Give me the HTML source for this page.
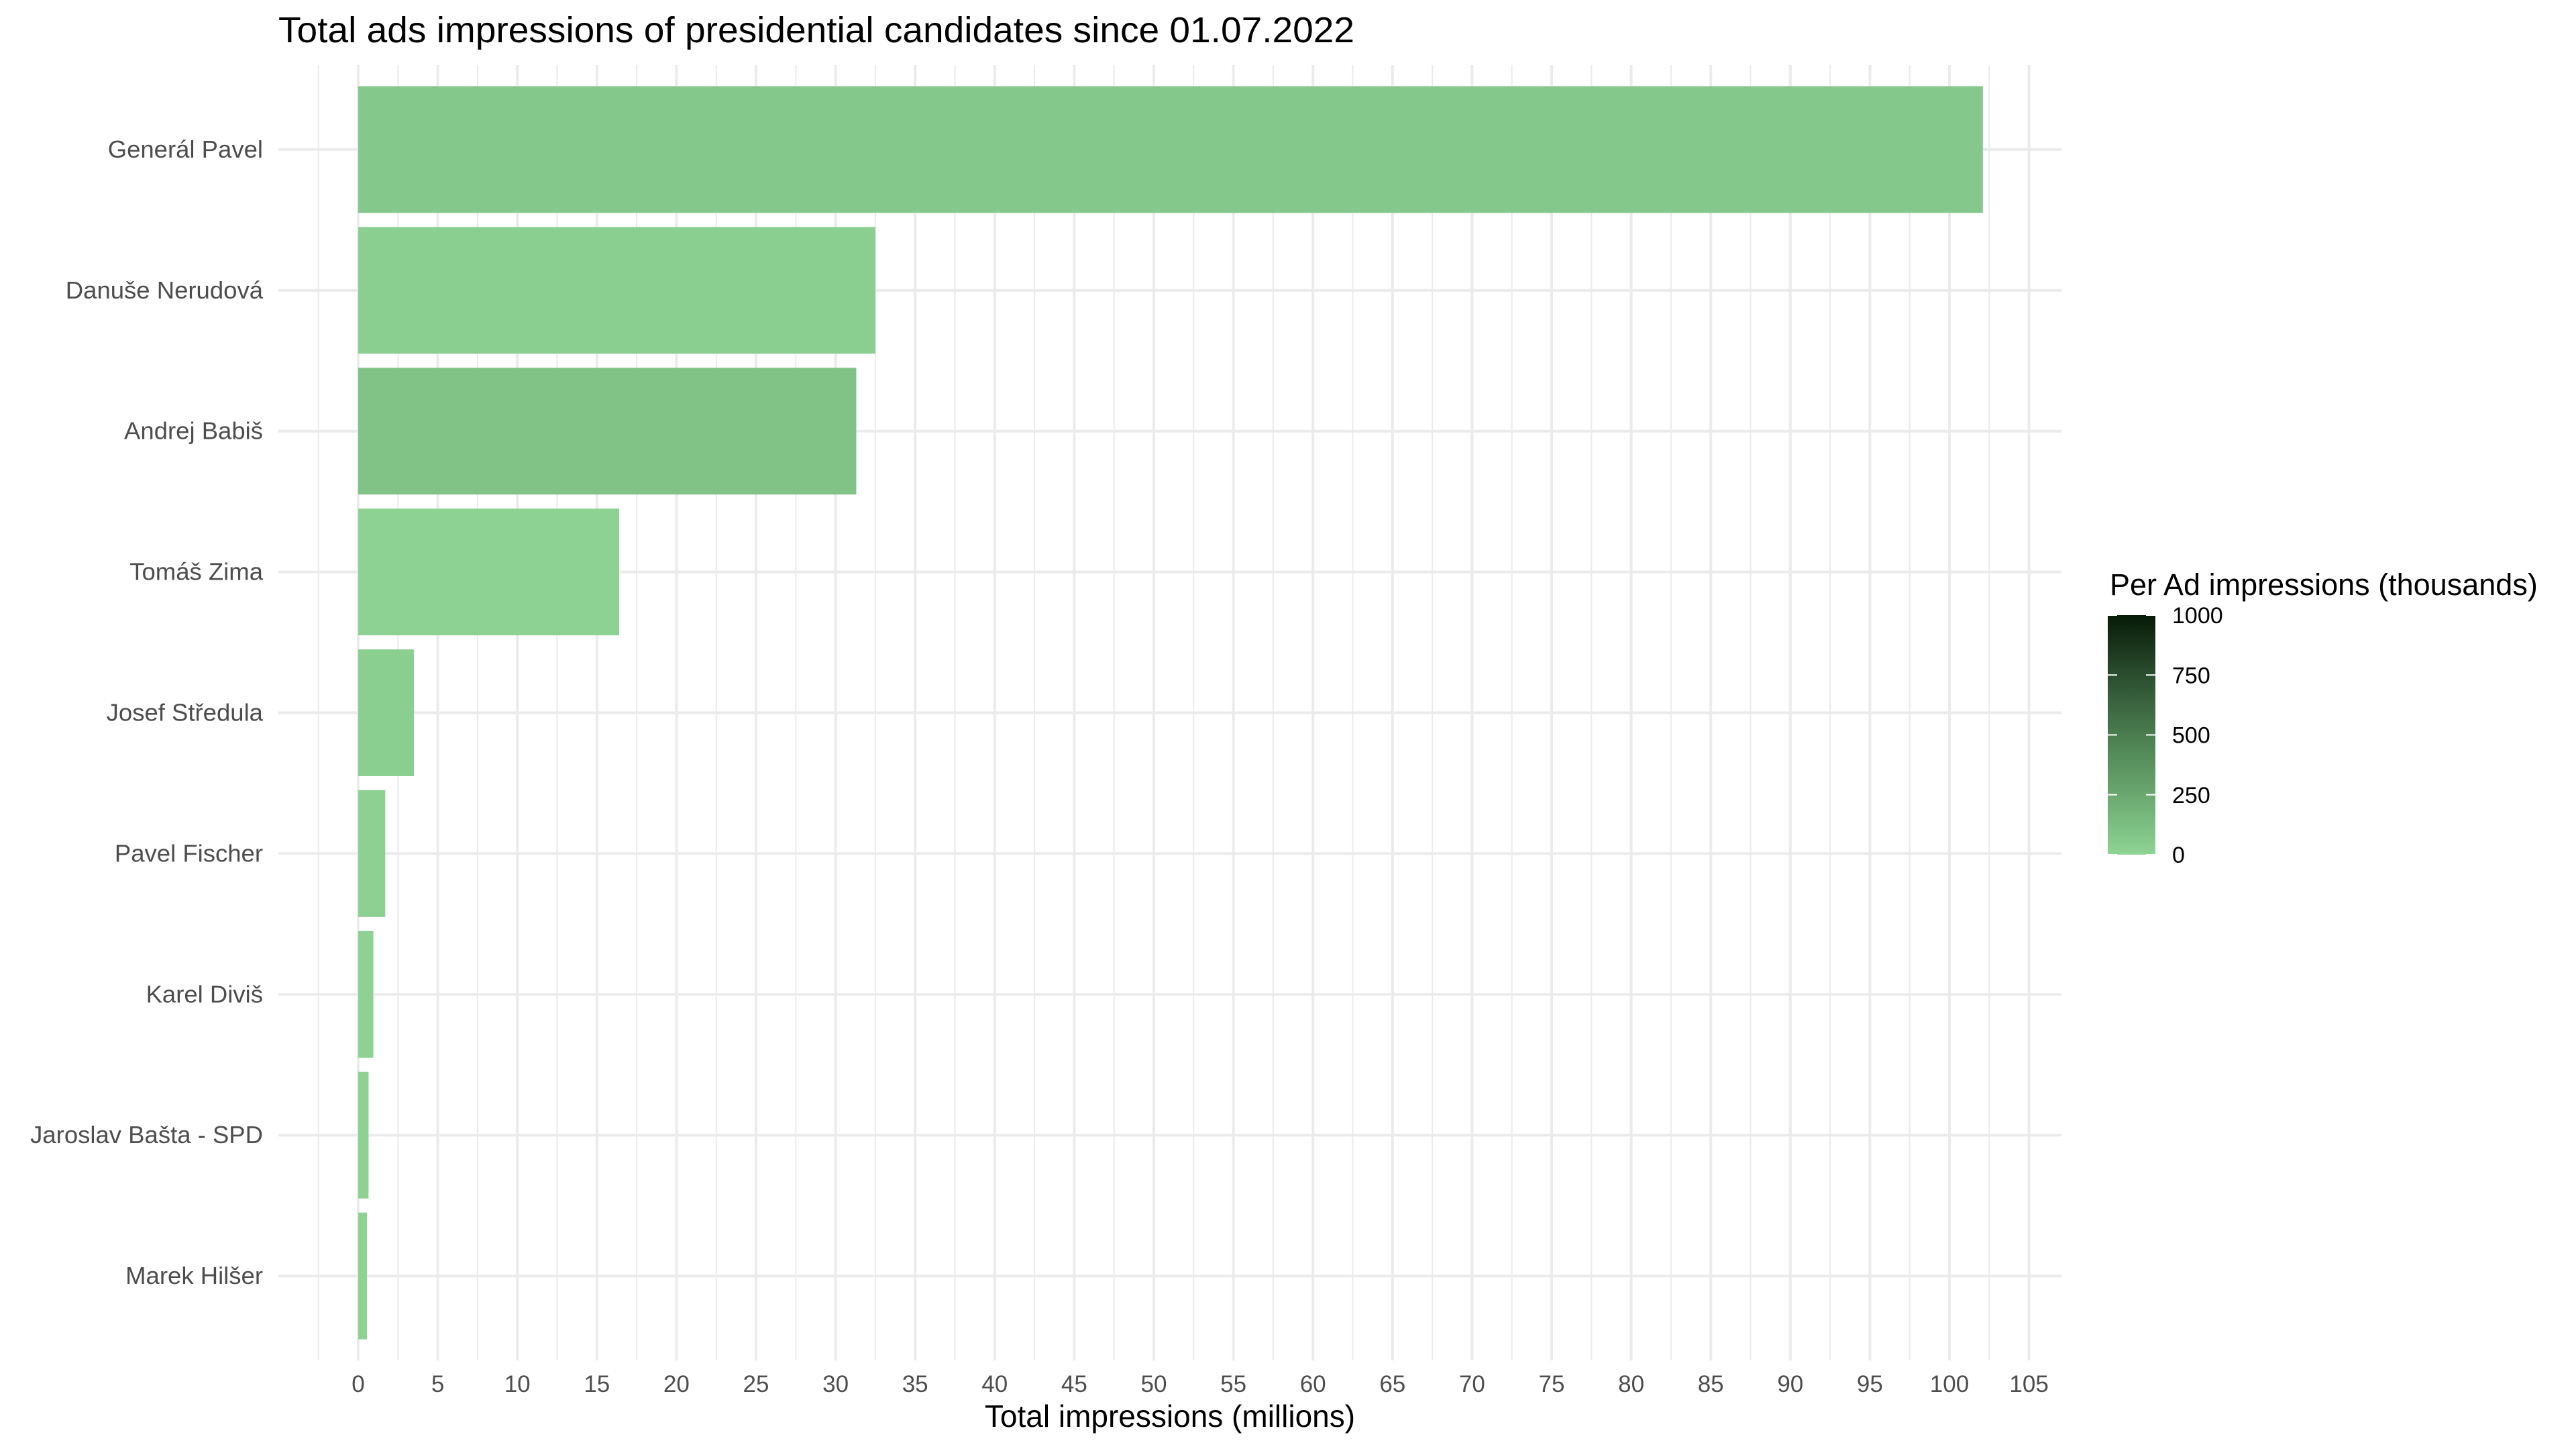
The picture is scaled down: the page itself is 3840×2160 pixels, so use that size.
<!DOCTYPE html>
<html><head><meta charset="utf-8"><style>
html,body{margin:0;padding:0;background:#fff;}
svg{display:block;font-family:"Liberation Sans","DejaVu Sans",sans-serif;}
</style></head><body>
<svg id="chart" width="3840" height="2160" viewBox="0 0 3840 2160" xmlns="http://www.w3.org/2000/svg">
<rect width="3840" height="2160" fill="#fff"/>
<text x="415" y="63" font-size="54" fill="#000" textLength="1604" lengthAdjust="spacingAndGlyphs">Total ads impressions of presidential candidates since 01.07.2022</text>
<g id="grid"></g>
<g id="bars"></g>
<g id="labels"></g>
<text x="1744" y="2127" font-size="46" text-anchor="middle" fill="#000">Total impressions (millions)</text>
<g id="legend">
<defs><linearGradient id="lg" x1="0" y1="1" x2="0" y2="0">
<stop offset="0" stop-color="#8ed494"/><stop offset="0.25" stop-color="#6aa86f"/><stop offset="0.5" stop-color="#4a7d4f"/><stop offset="0.75" stop-color="#2b4d2f"/><stop offset="1" stop-color="#071a07"/></linearGradient></defs>
<text x="3145" y="887" font-size="45" fill="#000">Per Ad impressions (thousands)</text>
<rect x="3142" y="917" width="71" height="357" fill="url(#lg)"/>
<g id="legendTicks"></g>
</g>
</svg>
<script>
const categories = ["Generál Pavel","Danuše Nerudová","Andrej Babiš","Tomáš Zima","Josef Středula","Pavel Fischer","Karel Diviš","Jaroslav Bašta - SPD","Marek Hilšer"];
const totals = [102.1, 32.5, 31.3, 16.4, 3.5, 1.7, 0.95, 0.65, 0.55];
const perAd = [65, 25, 95, 10, 25, 15, 10, 10, 10];
const xTicks = [0,5,10,15,20,25,30,35,40,45,50,55,60,65,70,75,80,85,90,95,100,105];
const legendTicks = [0,250,500,750,1000];

const NS = "http://www.w3.org/2000/svg";
const PL = 415, PR = 3073, PT = 97, PB = 2028;
const X0 = 534, XS = 23.72;
const x = v => X0 + v * XS;
const step = (PB - PT) / (categories.length + 0.2);
const y = i => PT + step * 0.6 + i * step;
const bw = step * 0.9;
function mk(tag, attrs, parent){const e=document.createElementNS(NS,tag);for(const k in attrs)e.setAttribute(k,attrs[k]);parent.appendChild(e);return e;}
function lerp(a,b,t){return Math.round(a+(b-a)*t);}
function col(v){const t=Math.max(0,Math.min(1,v/1000));const lo=[0x8e,0xd4,0x94],hi=[0x07,0x1a,0x07];
 return "rgb("+lerp(lo[0],hi[0],t)+","+lerp(lo[1],hi[1],t)+","+lerp(lo[2],hi[2],t)+")";}

const grid=document.getElementById('grid');
for(let v=-2.5; x(v)<=PR; v+=5){
 if(x(v)<PL) continue;
 const l=mk('line',{x1:x(v),x2:x(v),y1:PT,y2:PB,stroke:'#ebebeb','stroke-width':2},grid);
 
 
}
xTicks.forEach(v=>{
 const l=mk('line',{x1:x(v),x2:x(v),y1:PT,y2:PB,stroke:'#ebebeb','stroke-width':4},grid);
 
 
 const t=mk('text',{x:x(v),y:2075,'font-size':35,'text-anchor':'middle',fill:'#4d4d4d'},grid);
 t.textContent=v;
 
 
});
categories.forEach((c,i)=>{
 const l=mk('line',{x1:PL,x2:PR,y1:y(i),y2:y(i),stroke:'#ebebeb','stroke-width':4},grid);
 
 
});
const bars=document.getElementById('bars');
categories.forEach((c,i)=>{
 const r=mk('rect',{x:x(0),y:y(i)-bw/2,width:x(totals[i])-x(0),height:bw,fill:col(perAd[i])},bars);
 
 
 const t=mk('text',{x:392,y:y(i)+12,'font-size':36.5,'text-anchor':'end',fill:'#4d4d4d'},document.getElementById('labels'));
 t.textContent=c;
 
 
});
const lt=document.getElementById('legendTicks');
const LB=1274, LT=917;
legendTicks.forEach(v=>{
 const yy=LB-(v/1000)*(LB-LT);
 const a=mk('line',{x1:3142,x2:3156,y1:yy,y2:yy,stroke:'#fff','stroke-width':2},lt);
 
 
 const b=mk('line',{x1:3199,x2:3213,y1:yy,y2:yy,stroke:'#fff','stroke-width':2},lt);
 
 
 const t=mk('text',{x:3238,y:yy+12,'font-size':34,fill:'#000'},lt);
 t.textContent=v;
 
 
});
</script>
</body></html>
